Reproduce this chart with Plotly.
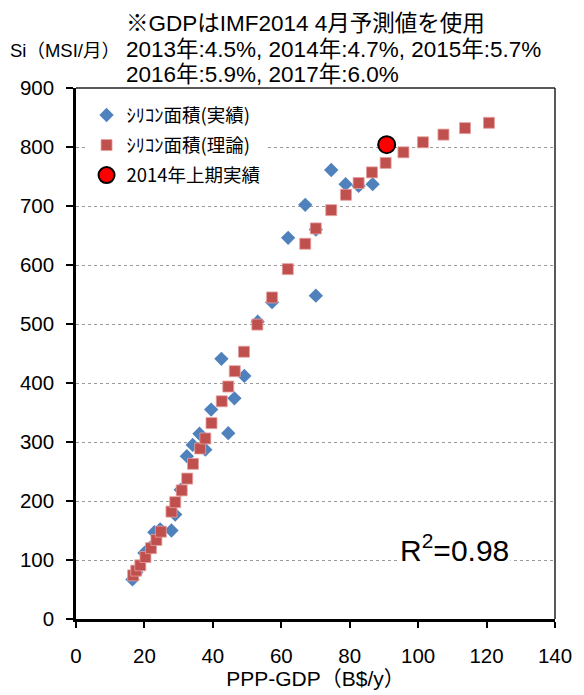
import plotly.graph_objects as go

# Actual silicon area (blue diamonds)
actual_gdp = [16.5, 17.6, 20.0, 21.7, 22.9, 24.6, 27.9, 29.0, 30.6, 32.4, 34.1, 36.1, 37.8,
              39.5, 42.5, 44.5, 46.3, 49.2, 53.1, 57.3, 62.0, 67.0, 70.1, 70.1, 74.6, 78.8, 82.6, 86.7]
actual_si = [67, 79, 112, 121, 147, 152, 150, 177, 219, 276, 295, 314, 287,
             355, 441, 315, 374, 412, 504, 537, 646, 702, 660, 548, 761, 737, 734, 737]

# Theoretical silicon area (red squares)
theory_gdp = [16.7, 17.6, 18.8, 20.3, 21.9, 23.5, 24.8, 27.9, 29.0, 30.9, 32.5, 34.2, 36.3,
              37.8, 39.6, 42.6, 44.5, 46.4, 49.1, 53.0, 57.3, 61.9, 67.0, 70.1, 74.6, 78.9,
              82.6, 86.5, 90.5, 95.7, 101.4, 107.4, 113.7, 120.7]
theory_si = [74, 82, 91, 105, 120, 134, 148, 182, 198, 218, 238, 263, 289,
             306, 332, 369, 394, 420, 453, 499, 545, 593, 636, 662, 693, 719,
             739, 757, 773, 791, 808, 821, 832, 841]

# 2014 first-half actual
h1_2014_gdp = [90.8]
h1_2014_si = [804]

x_ticks = [0, 20, 40, 60, 80, 100, 120, 140]
y_ticks = [0, 100, 200, 300, 400, 500, 600, 700, 800, 900]

FONT = "Liberation Sans, Arial, Noto Sans CJK JP, sans-serif"
JFONT = "Noto Sans CJK JP, Liberation Sans, sans-serif"

fig = go.Figure()
fig.add_trace(go.Scatter(
    x=actual_gdp, y=actual_si, mode="markers", name="ｼﾘｺﾝ面積(実績)", legendgroup="a",
    marker=dict(symbol="diamond", size=11, color="#4F81BD", line=dict(width=0)),
))
fig.add_trace(go.Scatter(
    x=theory_gdp, y=theory_si, mode="markers", name="ｼﾘｺﾝ面積(理論)", legendgroup="b",
    marker=dict(symbol="square", size=11, color="#C0504D",
                line=dict(width=1, color="rgba(230,160,160,0.8)")),
))
fig.add_trace(go.Scatter(
    x=h1_2014_gdp, y=h1_2014_si, mode="markers", name="2014年上期実績", legendgroup="c",
    marker=dict(symbol="circle", size=17, color="#FF0000", line=dict(width=2, color="black")),
))

# page body has an 8px margin, so the figure is shrunk by that amount
fig.update_layout(
    width=576, height=687,
    margin=dict(l=65, r=21, t=80, b=71),
    paper_bgcolor="white", plot_bgcolor="white",
    font=dict(family=FONT, size=19, color="black"),
    showlegend=True,
    legend=dict(
        x=0.022, y=0.984, xanchor="left", yanchor="top",
        bgcolor="white", borderwidth=0,
        font=dict(family=JFONT, size=18.5, color="black"),
        traceorder="grouped", tracegroupgap=3,
    ),
    xaxis=dict(
        range=[0, 140], tickvals=x_ticks, showgrid=False, zeroline=False,
        showline=True, linewidth=2.5, linecolor="black",
        ticks="outside", ticklen=6, tickwidth=1.5, tickcolor="black",
        ticklabelstandoff=11,
        tickfont=dict(family=FONT, size=20.5),
        title=dict(text="PPP-GDP（B$/y）", font=dict(family=FONT, size=21), standoff=1),
    ),
    yaxis=dict(
        range=[0, 900], tickvals=y_ticks, zeroline=False,
        showgrid=True, gridcolor="#9a9a9a", griddash="dot", gridwidth=1,
        showline=True, linewidth=2.5, linecolor="black",
        ticks="outside", ticklen=7, tickwidth=1.5, tickcolor="black",
        ticklabelstandoff=8,
        tickfont=dict(family=FONT, size=20.5),
    ),
)

# thin frame on top and right
fig.add_shape(type="line", xref="paper", yref="paper", x0=0, x1=1, y0=1, y1=1,
              line=dict(color="#222222", width=1.5))
fig.add_shape(type="line", xref="paper", yref="paper", x0=1, x1=1, y0=0, y1=1,
              line=dict(color="#222222", width=1.5))

# Y axis title
fig.add_annotation(text="Si（MSI/月）", xref="paper", yref="paper",
                   x=0.097, y=1.071, xanchor="right", yanchor="middle", showarrow=False,
                   font=dict(family=FONT, size=18.5))
# header note
header_lines = ["※GDPはIMF2014 4月予測値を使用",
                "2013年:4.5%, 2014年:4.7%, 2015年:5.7%",
                "2016年:5.9%, 2017年:6.0%"]
header_y = [1.121, 1.073, 1.026]
for line, yy in zip(header_lines, header_y):
    fig.add_annotation(text=line, xref="paper", yref="paper",
                       x=0.101, y=yy, xanchor="left", yanchor="middle",
                       showarrow=False, font=dict(family=FONT, size=22.5))

# R^2 label
fig.add_annotation(text="R<sup>2</sup>=0.98", x=110.6, y=120, xref="x", yref="y",
                   showarrow=False, bgcolor="white",
                   font=dict(family=FONT, size=30, color="black"))

fig.write_html("out.html")
